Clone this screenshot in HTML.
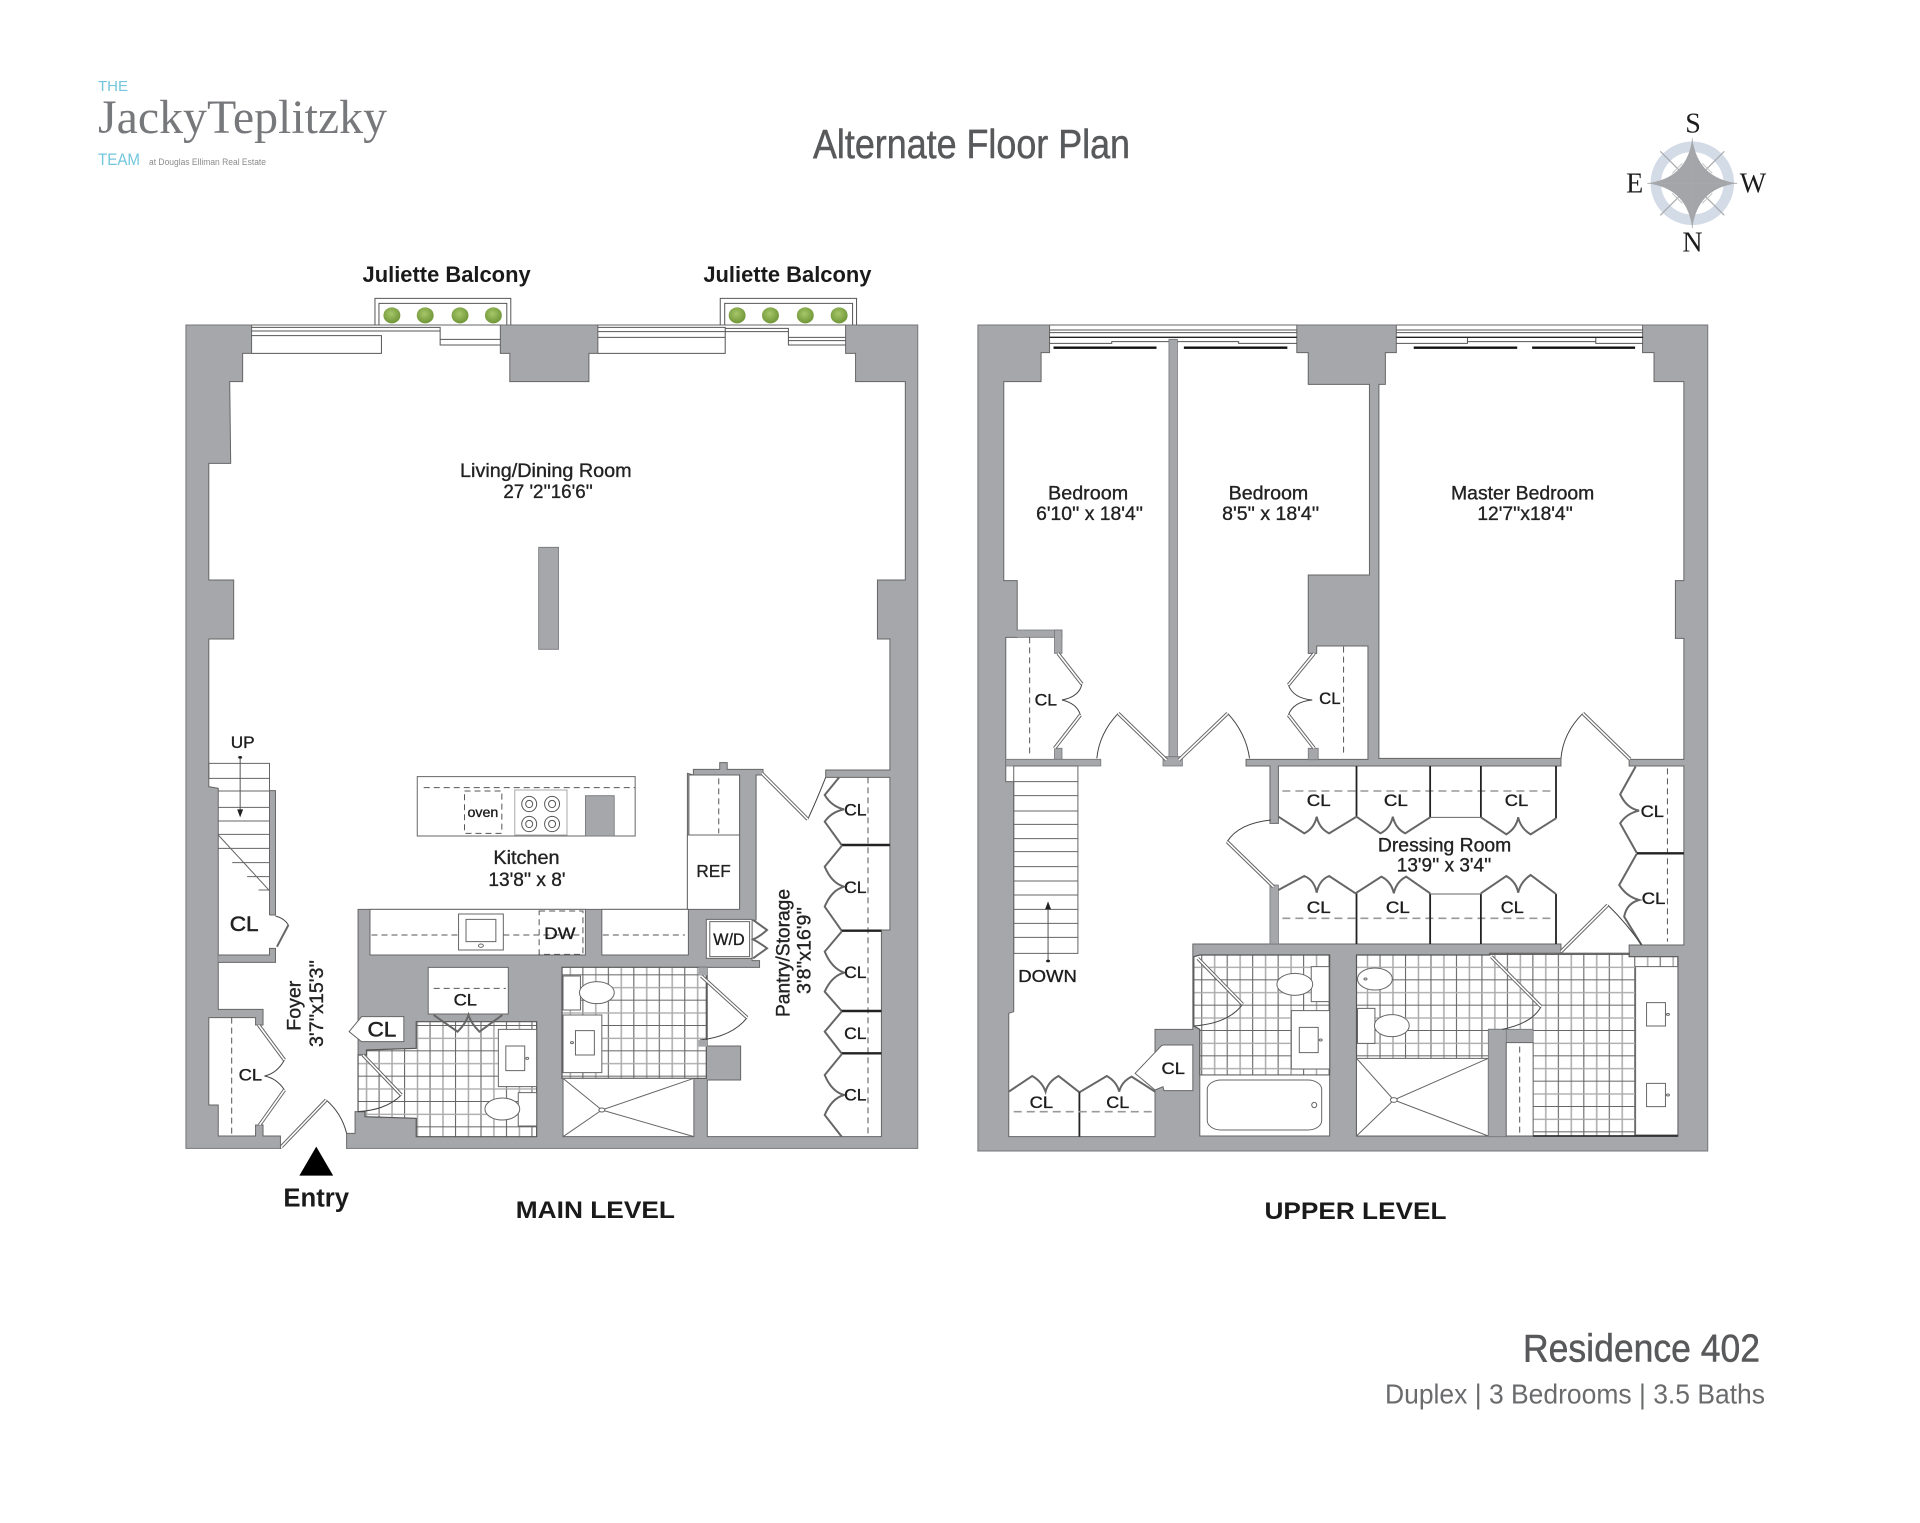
<!DOCTYPE html>
<html><head><meta charset="utf-8"><title>Residence 402 Alternate Floor Plan</title>
<style>
html,body{margin:0;padding:0;background:#fff}
svg{display:block}
svg *{vector-effect:non-scaling-stroke}
text{font-family:"Liberation Sans",sans-serif;vector-effect:none}
.g{fill:none;stroke:#555;stroke-width:1}
.wall{fill:#a5a7aa;stroke:#74767a;stroke-width:1}
.w{fill:#fff;stroke:#666;stroke-width:1}
.wn{fill:#fff;stroke:none}
.gf{fill:#a5a7aa;stroke:none}
.gs{fill:#a5a7aa;stroke:#74767a;stroke-width:.8}
.t{fill:url(#tile);stroke:#555;stroke-width:1.2}
.tu{fill:url(#tileu);stroke:#555;stroke-width:1.2}
.th{fill:none;stroke:#666;stroke-width:1}
.lo{fill:none;stroke:#666;stroke-width:3.6}
.li{fill:none;stroke:#fff;stroke-width:1.6}
.ch{fill:none;stroke:#666;stroke-width:2}
.arc{fill:none;stroke:#444;stroke-width:1}
.d{fill:none;stroke:#555;stroke-width:1;stroke-dasharray:6 4}
.d2{fill:none;stroke:#999;stroke-width:1.6;stroke-dasharray:8 5}
.bk{fill:none;stroke:#222;stroke-width:1.8}
.bb{fill:none;stroke:#222;stroke-width:2.4}
.l{fill:#222;stroke:#222;stroke-width:.35;font-size:19.5px}
.c{fill:#1d1d1d;stroke:#1d1d1d;stroke-width:.35;font-size:16.5px}
.b{fill:#1a1a1a;font-weight:bold;font-size:22px}
.h{fill:#58595b;stroke:#58595b;stroke-width:.5}
</style></head>
<body>
<svg xmlns="http://www.w3.org/2000/svg" width="1920" height="1523" viewBox="0 0 1920 1523">
<defs>
<pattern id="tile" patternUnits="userSpaceOnUse" x="9.6" y="3" width="51.2" height="76">
<rect width="51.2" height="76" fill="#fff"/>
<rect x="0" y="0" width="2.2" height="76" fill="#666"/>
<rect x="25.6" y="0" width="3" height="76" fill="#aaa"/>
<rect x="0" y="0" width="51.2" height="3" fill="#666"/>
<rect x="0" y="38" width="51.2" height="4" fill="#aaa"/>
</pattern>
<pattern id="tileu" patternUnits="userSpaceOnUse" x="24" y="34" width="51.2" height="76">
<rect width="51.2" height="76" fill="#fff"/>
<rect x="0" y="0" width="2.2" height="76" fill="#666"/>
<rect x="25.6" y="0" width="3" height="76" fill="#aaa"/>
<rect x="0" y="0" width="51.2" height="3" fill="#666"/>
<rect x="0" y="38" width="51.2" height="4" fill="#aaa"/>
</pattern>
<path id="dl" d="M178,915L230,1020M230,1110L180,1215M224,1280L314,1140M388,1005L465,1125M1068,768L1160,893M1190,160L1282,298"/>
<path id="du" d="M197,-260L245,-168M242,-75L190,25M318,-80L415,60M538,-80L440,60M712,-260L660,-165M660,-75L712,25M1252,-80L1347,58M630,440L537,305M478,655L568,793M1068,650L1168,800M1208,635L1302,495"/>
<radialGradient id="pl" cx=".45" cy=".4" r=".6"><stop offset="0" stop-color="#a6c66a"/><stop offset="1" stop-color="#6f9636"/></radialGradient>
</defs>
<rect width="1920" height="1523" fill="#fff"/>

<!-- MAIN LEVEL -->
<g transform="translate(170 720) scale(.4975 .33333)">
<rect class="wall" x="32" y="-1185" width="1471" height="2470"/>
<polygon class="w" points="164,-1185 164,-1100 146,-1100 146,-1015 120,-1015 122,-770 78,-770 78,-420 128,-420 128,-243 78,-243 78,200 97,205 97,868 187,868 187,915 172,915 172,893 78,893 78,1155 97,1155 97,1248 172,1248 172,1215 187,1215 187,1248 222,1248 222,1285 355,1285 355,1240 372,1240 372,1175 378,1175 378,568 1040,568 1040,160 1052,165 1052,148 1105,148 1105,128 1120,128 1120,148 1192,148 1192,165 1178,165 1178,600 1170,600 1170,722 1185,722 1185,742 1080,742 1080,978 1147,978 1147,1080 1080,1080 1080,1250 1430,1250 1430,630 1447,630 1447,172 1318,172 1318,150 1447,150 1447,-243 1422,-243 1422,-420 1478,-420 1478,-1015 1378,-1015 1378,-1100 1358,-1100 1358,-1185 860,-1185 860,-1100 842,-1100 842,-1015 683,-1015 683,-1100 664,-1100 664,-1185"/>
<path d="M224,1285.5H354" fill="none" stroke="#fff" stroke-width="2.5"/>
<!-- windows -->
<path class="g" d="M164,-1178H543V-1125H664M164,-1167H543M164,-1153H425V-1100H164M543,-1142H664M860,-1178H1116V-1100H860M860,-1165H1116M860,-1148H1116M1116,-1175H1243V-1125H1358M1116,-1165H1243M1243,-1148H1358M1243,-1138H1358"/>
<path class="g" d="M412,-1185V-1265H685V-1185M420,-1185V-1250H677V-1185M1106,-1185V-1265H1380V-1185M1115,-1185V-1250H1372V-1185"/>
<g fill="url(#pl)">
<ellipse cx="446" cy="-1214" rx="17" ry="24"/><ellipse cx="513" cy="-1214" rx="17" ry="24"/><ellipse cx="583" cy="-1214" rx="17" ry="24"/><ellipse cx="650" cy="-1214" rx="17" ry="24"/>
<ellipse cx="1140" cy="-1214" rx="17" ry="24"/><ellipse cx="1207" cy="-1214" rx="17" ry="24"/><ellipse cx="1277" cy="-1214" rx="17" ry="24"/><ellipse cx="1345" cy="-1214" rx="17" ry="24"/>
</g>
<rect class="gs" x="741" y="-518" width="40" height="306"/>

<!-- stairs -->
<rect class="th" x="78" y="130" width="122" height="45"/>
<path class="th" d="M97,213H200M97,262H200M97,303H200M97,343H200M97,385H200M125,428H200M155,470H200M178,510H200M97,345L200,512M200,175V212"/>
<path class="g" d="M141,112V270"/><circle cx="141" cy="112" r="4" fill="#222"/>
<polygon points="135,268 147,268 141,292" fill="#222"/>
<rect class="gf" x="200" y="212" width="12" height="373"/>
<rect class="gf" x="200" y="685" width="12" height="42"/>
<rect class="gf" x="97" y="705" width="115" height="22"/>
<path class="th" d="M97,727H212V685H200V705H97M200,585V212H212V585H200"/>
<path class="arc" d="M212,588Q230,595 238,615"/>
<path class="ch" d="M238,615L215,680"/>

<!-- lower-left foyer closet -->
<path class="d" d="M124,893V1248"/>
<path class="arc" d="M230,1020Q215,1060 190,1068Q215,1075 230,1110"/>
<!-- entry -->
<path class="arc" d="M314,1140Q345,1180 355,1240"/>
<polygon points="260,1367 328,1367 294,1280" fill="#000"/>

<!-- island -->
<rect class="w" x="497" y="170" width="438" height="178"/>
<path class="d" d="M510,203H935"/>
<rect class="d" x="592" y="213" width="75" height="127"/>
<rect x="693" y="210" width="105" height="135" fill="#fff" stroke="#aaa"/>
<g class="g"><ellipse cx="722" cy="252" rx="15" ry="23"/><ellipse cx="768" cy="252" rx="15" ry="23"/><ellipse cx="722" cy="312" rx="15" ry="23"/><ellipse cx="768" cy="312" rx="15" ry="23"/>
<ellipse cx="722" cy="252" rx="7" ry="11"/><ellipse cx="768" cy="252" rx="7" ry="11"/><ellipse cx="722" cy="312" rx="7" ry="11"/><ellipse cx="768" cy="312" rx="7" ry="11"/></g>
<rect class="gs" x="835" y="227" width="58" height="121"/>

<!-- fridge/cabinet -->
<rect class="w" x="1043" y="165" width="102" height="180"/>
<path class="d" d="M1103,175V340"/>
<rect class="w" x="1040" y="345" width="105" height="223"/>
<rect class="gf" x="1145" y="165" width="33" height="435"/>
<path class="th" d="M1145,165V568M1178,165V600"/>

<!-- counters -->
<rect class="w" x="402" y="568" width="433" height="137"/>
<rect class="w" x="868" y="568" width="174" height="137"/>
<path class="d" d="M405,645H580M670,645H830M870,645H1035"/>
<rect class="w" x="580" y="582" width="90" height="108"/>
<rect class="th" x="595" y="598" width="60" height="67"/>
<circle class="th" cx="625" cy="677" r="5"/>
<rect class="d" x="742" y="573" width="88" height="130"/>
<!-- W/D -->
<rect class="w" x="1078" y="598" width="92" height="117"/>
<rect class="th" x="1085" y="605" width="80" height="105"/>
<path class="ch" d="M1172,600L1200,630Q1185,650 1172,658Q1185,668 1200,685L1172,715"/>

<!-- closet -->
<rect class="w" x="519" y="742" width="161" height="140"/>
<path class="d" d="M530,805H675"/>
<!-- left bath -->
<polygon class="t" points="395,990 495,985 495,905 737,905 737,1250 495,1250 495,1195 392,1190 392,1175 378,1175 378,1005 395,1005"/>
<path class="ch" d="M530,885L578,935Q595,910 600,885Q605,910 622,935L668,885"/>
<path class="arc" d="M465,1125Q435,1170 378,1175"/>
<rect class="w" x="660" y="928" width="77" height="172"/>
<rect class="th" x="675" y="978" width="38" height="74"/>
<circle class="th" cx="718" cy="1015" r="3"/>
<rect class="w" x="700" y="1118" width="37" height="100"/>
<ellipse class="w" cx="668" cy="1167" rx="35" ry="33"/>
<!-- foyer CL -->
<polygon class="w" points="385,890 470,890 470,965 385,965 360,935"/>
<!-- right bath -->
<rect class="t" x="788" y="742" width="290" height="333"/>
<path class="arc" d="M1160,893Q1130,950 1065,960"/>
<rect class="gf" x="1062" y="742" width="18" height="24"/>
<rect class="gf" x="1062" y="960" width="18" height="20"/>
<rect class="w" x="790" y="885" width="78" height="173"/>
<rect class="th" x="815" y="932" width="38" height="73"/>
<circle class="th" cx="808" cy="968" r="3"/>
<rect class="w" x="790" y="768" width="35" height="102"/>
<ellipse class="w" cx="858" cy="818" rx="35" ry="33"/>
<rect class="w" x="790" y="1075" width="263" height="175"/>
<path class="th" d="M790,1075L868,1170M1053,1075L868,1170M790,1250L868,1170M1053,1250L868,1170"/>
<circle class="w" cx="868" cy="1170" r="6"/>

<!-- pantry closets -->
<path class="arc" d="M1282,298Q1300,240 1318,172"/>
<path class="d" d="M1403,172V1250"/>
<path class="ch" d="M1345,172L1316,225Q1330,260 1355,268Q1330,275 1316,305L1350,375M1350,378L1316,440Q1330,490 1355,500Q1330,510 1316,560L1350,632M1350,635L1316,695Q1330,745 1355,758Q1330,768 1316,815L1350,873M1350,875L1316,935L1350,1000M1350,1003L1316,1065Q1330,1115 1355,1125Q1330,1135 1316,1185L1350,1250"/>
<path class="bb" d="M1350,375H1447M1350,632H1430M1350,873H1430M1350,1000H1430"/>
<use href="#dl" class="lo"/><use href="#dl" class="li"/>
</g>

<!-- UPPER LEVEL -->
<g transform="translate(960 740) scale(.4975 .33333)">
<rect class="wall" x="36" y="-1245" width="1467" height="2478"/>
<polygon class="w" points="180,-1245 180,-1162 163,-1162 163,-1075 88,-1075 88,-478 115,-478 115,-308 92,-308 92,125 108,125 108,815 98,820 98,1190 392,1190 392,868 468,868 468,612 1208,612 1208,640 1345,640 1345,615 1455,615 1455,78 1345,78 1345,58 1455,58 1455,-305 1438,-305 1438,-478 1455,-478 1455,-1075 1395,-1075 1395,-1162 1372,-1162 1372,-1245 877,-1245 877,-1162 855,-1162 855,-1067 842,-1067 842,55 1208,55 1208,78 640,78 640,250 623,250 623,78 575,78 575,58 820,58 820,-282 717,-282 717,-260 700,-260 700,-495 823,-495 823,-1067 700,-1067 700,-1162 677,-1162 677,-1245"/>
<!-- windows -->
<path class="g" d="M180,-1230H677M180,-1222H677M180,-1190H305V-1195H560V-1190H677M877,-1230H1373M877,-1222H1373M877,-1190H1020V-1208M1278,-1208V-1190H1373M1020,-1195H1278"/>
<path d="M180,-1208H677M877,-1208H1373" fill="none" stroke="#222" stroke-width="1.4"/>
<path d="M188,-1177H395M450,-1177H658M912,-1177H1120M1150,-1177H1357" fill="none" stroke="#111" stroke-width="2.4"/>
<!-- internal walls -->
<rect class="gs" x="420" y="-1202" width="17" height="1257"/>
<rect class="gs" x="408" y="50" width="39" height="28"/>
<rect class="gs" x="115" y="-330" width="90" height="22"/>
<rect class="gs" x="190" y="-330" width="15" height="70"/>
<rect class="gf" x="112" y="-329" width="20" height="20"/>
<rect class="gs" x="190" y="25" width="15" height="34"/>
<rect class="gs" x="700" y="25" width="20" height="34"/>
<rect class="gs" x="92" y="58" width="191" height="20"/>
<rect class="gs" x="623" y="435" width="17" height="177"/>
<!-- closets bedrooms -->
<path class="d" d="M140,-308V45M771,-280V50"/>
<path class="arc" d="M245,-168Q240,-130 205,-120Q235,-110 242,-75M660,-165Q670,-125 708,-120Q670,-115 660,-75"/>
<path class="arc" d="M318,-80Q280,-20 275,55M538,-80Q575,-20 582,55M1252,-80Q1212,-20 1208,55"/>
<!-- stairs -->
<rect class="th" x="108" y="78" width="129" height="562"/>
<path class="th" d="M108,125H237M108,167H237M108,213H237M108,253H237M108,296H237M108,335H237M108,380H237M108,423H237M108,465H237M108,508H237M108,550H237M108,592H237"/>
<path class="g" d="M177,505V663"/><circle cx="177" cy="663" r="4" fill="#222"/>
<polygon points="171,508 183,508 177,484" fill="#222"/>
<!-- dressing closets -->
<path class="d2" d="M648,153H1195M648,535H1195"/>
<path class="bk" d="M797,78V230M945,78V232M1047,78V232M1198,78V235M797,460V612M945,460V612M1047,460V612M1198,462V612"/>
<path class="th" d="M945,232H1047M945,462H1047"/>
<path class="ch" d="M640,230L692,280Q712,265 717,230Q722,265 742,280L797,230L845,280Q865,265 870,230Q875,265 895,280L945,232M1047,232L1098,283Q1118,265 1122,232Q1127,265 1147,283L1198,235"/>
<path class="ch" d="M640,450L692,408Q712,420 717,458Q722,420 742,408L795,460L847,410Q867,425 872,460Q877,425 897,410L945,460M1047,460L1098,408Q1118,425 1122,458Q1127,425 1147,405L1198,462"/>
<path class="arc" d="M537,305Q560,250 625,240"/>
<!-- right closets -->
<path class="d" d="M1422,85V605"/>
<path class="ch" d="M1358,80L1327,163Q1340,205 1365,212Q1340,220 1327,250L1360,338M1360,342L1325,435Q1340,470 1365,480Q1340,490 1335,530L1370,615"/>
<path class="bb" d="M1360,340H1455"/>
<!-- hall closets -->
<path class="ch" d="M98,1055L145,1008Q165,1025 172,1055Q177,1025 198,1008L240,1057L295,1008Q315,1025 320,1055Q325,1025 345,1010L392,1055"/>
<path class="bk" d="M240,1057V1190"/>
<path class="d2" d="M108,1115H390"/>
<polygon class="w" points="408,915 468,915 468,1052 410,1052 408,1040 392,1050 352,1000 405,917"/>
<!-- bath 1 -->
<polygon class="tu" points="482,645 743,645 743,1005 482,1005 482,868 470,858 470,650"/>
<path class="arc" d="M568,793Q540,850 470,858"/>
<rect class="w" x="706" y="680" width="36" height="105"/>
<ellipse class="w" cx="673" cy="733" rx="36" ry="33"/>
<rect class="w" x="666" y="812" width="77" height="175"/>
<rect class="th" x="682" y="862" width="38" height="76"/>
<circle class="th" cx="725" cy="900" r="3"/>
<rect class="w" x="482" y="1005" width="261" height="183"/>
<rect class="th" x="497" y="1020" width="230" height="150" rx="28" ry="28"/>
<ellipse class="th" cx="712" cy="1095" rx="5" ry="8"/>
<!-- master bath -->
<polygon class="tu" points="797,645 1065,645 1065,640 1345,640 1345,650 1443,650 1443,1188 797,1188"/>
<rect class="w" x="797" y="955" width="265" height="233"/>
<path class="th" d="M797,955L872,1080M1062,955L872,1080M797,1188L872,1080M1062,1188L872,1080"/>
<circle class="w" cx="872" cy="1080" r="7"/>
<rect class="gs" x="1062" y="868" width="90" height="42"/>
<rect class="gs" x="1062" y="868" width="36" height="322"/>
<rect class="w" x="1098" y="908" width="54" height="280"/>
<path class="d" d="M1125,920V1180"/>
<rect class="w" x="1358" y="680" width="85" height="505"/>
<rect class="th" x="1380" y="788" width="38" height="70"/>
<rect class="th" x="1380" y="1030" width="38" height="70"/>
<circle class="th" cx="1423" cy="823" r="3"/>
<circle class="th" cx="1423" cy="1065" r="3"/>
<path d="M1152,1188H1443" fill="none" stroke="#222" stroke-width="1.5"/>
<path class="arc" d="M1168,800Q1150,850 1090,868"/>
<ellipse class="w" cx="834" cy="717" rx="35" ry="33"/>
<circle class="th" cx="815" cy="717" r="3"/>
<rect class="w" x="799" y="805" width="35" height="105"/>
<ellipse class="w" cx="868" cy="857" rx="35" ry="33"/>
<path class="arc" d="M1302,495Q1340,550 1370,615"/>
<use href="#du" class="lo"/><use href="#du" class="li"/>
</g>

<!-- Main labels -->
<g transform="translate(.85 0) scale(.995 1)">
<text class="b" x="363.5" y="282" textLength="169" lengthAdjust="spacingAndGlyphs">Juliette Balcony</text>
<text class="b" x="706" y="282" textLength="169" lengthAdjust="spacingAndGlyphs">Juliette Balcony</text>
<text class="l" x="461.5" y="477" textLength="172.5" lengthAdjust="spacingAndGlyphs">Living/Dining Room</text>
<text class="l" x="505" y="498" textLength="90" lengthAdjust="spacingAndGlyphs">27 '2''16'6''</text>
<text class="c" x="231" y="748" textLength="24" lengthAdjust="spacingAndGlyphs" style="font-size:17px">UP</text>
<text class="c" x="469" y="817" textLength="31" lengthAdjust="spacingAndGlyphs" style="font-size:14px">oven</text>
<text class="l" x="495" y="864" textLength="66.5" lengthAdjust="spacingAndGlyphs">Kitchen</text>
<text class="l" x="490" y="886" textLength="77.5" lengthAdjust="spacingAndGlyphs">13'8'' x 8'</text>
<text class="l" x="699" y="877" textLength="34.5" lengthAdjust="spacingAndGlyphs" style="font-size:18px">REF</text>
<text class="l" x="230" y="931" textLength="29" lengthAdjust="spacingAndGlyphs" style="font-size:21px;stroke-width:.5">CL</text>
<text class="c" x="716" y="945" textLength="31.5" lengthAdjust="spacingAndGlyphs">W/D</text>
<text class="c" x="546" y="939" textLength="31.5" lengthAdjust="spacingAndGlyphs" style="font-size:17px">DW</text>
<text class="c" x="455" y="1005.7" textLength="23.5" lengthAdjust="spacingAndGlyphs">CL</text>
<text class="l" x="368.5" y="1036.7" textLength="29" lengthAdjust="spacingAndGlyphs" style="font-size:21px;stroke-width:.5">CL</text>
<text class="c" x="239" y="1080.7" textLength="23.5" lengthAdjust="spacingAndGlyphs">CL</text>
<text class="c" x="847.5" y="815.7" textLength="22.5" lengthAdjust="spacingAndGlyphs">CL</text>
<text class="c" x="847.5" y="893" textLength="22.5" lengthAdjust="spacingAndGlyphs">CL</text>
<text class="c" x="847.5" y="978" textLength="22.5" lengthAdjust="spacingAndGlyphs">CL</text>
<text class="c" x="847.5" y="1039" textLength="22.5" lengthAdjust="spacingAndGlyphs">CL</text>
<text class="c" x="847.5" y="1100.7" textLength="22.5" lengthAdjust="spacingAndGlyphs">CL</text>
<text class="l" x="301" y="1030.7" transform="rotate(-90 301 1030.7)" textLength="50" lengthAdjust="spacingAndGlyphs">Foyer</text>
<text class="l" x="324" y="1047" transform="rotate(-90 324 1047)" textLength="87" lengthAdjust="spacingAndGlyphs">3'7''x15'3''</text>
<text class="l" x="792.5" y="1017" transform="rotate(-90 792.5 1017)" textLength="128" lengthAdjust="spacingAndGlyphs">Pantry/Storage</text>
<text class="l" x="813.5" y="994" transform="rotate(-90 813.5 994)" textLength="87" lengthAdjust="spacingAndGlyphs">3'8''x16'9''</text>
<text class="b" x="284" y="1206.7" textLength="66" lengthAdjust="spacingAndGlyphs" style="font-size:26px">Entry</text>
<text class="b" x="517.5" y="1218" textLength="160" lengthAdjust="spacingAndGlyphs" style="font-size:24px">MAIN LEVEL</text>
</g>

<!-- Upper labels -->
<g transform="translate(4.8 0) scale(.995 1)">
<text class="l" x="1048.5" y="499.3" textLength="80.5" lengthAdjust="spacingAndGlyphs">Bedroom</text>
<text class="l" x="1036.5" y="520" textLength="107.5" lengthAdjust="spacingAndGlyphs">6'10'' x 18'4''</text>
<text class="l" x="1230" y="499.3" textLength="80" lengthAdjust="spacingAndGlyphs">Bedroom</text>
<text class="l" x="1223.5" y="520" textLength="97.5" lengthAdjust="spacingAndGlyphs">8'5'' x 18'4''</text>
<text class="l" x="1453.5" y="499.3" textLength="144" lengthAdjust="spacingAndGlyphs">Master Bedroom</text>
<text class="l" x="1480" y="520" textLength="96" lengthAdjust="spacingAndGlyphs">12'7''x18'4''</text>
<text class="c" x="1035" y="705.7" textLength="22.5" lengthAdjust="spacingAndGlyphs">CL</text>
<text class="c" x="1321" y="704" textLength="21.5" lengthAdjust="spacingAndGlyphs">CL</text>
<text class="c" x="1308.5" y="806" textLength="24" lengthAdjust="spacingAndGlyphs">CL</text>
<text class="c" x="1386" y="806" textLength="24" lengthAdjust="spacingAndGlyphs">CL</text>
<text class="c" x="1507.5" y="806" textLength="23.5" lengthAdjust="spacingAndGlyphs">CL</text>
<text class="c" x="1308.5" y="913" textLength="24" lengthAdjust="spacingAndGlyphs">CL</text>
<text class="c" x="1388" y="913" textLength="24" lengthAdjust="spacingAndGlyphs">CL</text>
<text class="c" x="1503.5" y="913" textLength="23" lengthAdjust="spacingAndGlyphs">CL</text>
<text class="c" x="1644" y="817" textLength="23.5" lengthAdjust="spacingAndGlyphs">CL</text>
<text class="c" x="1645" y="904" textLength="24" lengthAdjust="spacingAndGlyphs">CL</text>
<text class="l" x="1380" y="851.7" textLength="134" lengthAdjust="spacingAndGlyphs">Dressing Room</text>
<text class="l" x="1399" y="871.7" textLength="95" lengthAdjust="spacingAndGlyphs">13'9'' x 3'4''</text>
<text class="c" x="1018.5" y="982" textLength="59" lengthAdjust="spacingAndGlyphs" style="font-size:18px">DOWN</text>
<text class="c" x="1030" y="1108" textLength="23.5" lengthAdjust="spacingAndGlyphs">CL</text>
<text class="c" x="1107" y="1108" textLength="23" lengthAdjust="spacingAndGlyphs">CL</text>
<text class="c" x="1162.5" y="1074" textLength="23.5" lengthAdjust="spacingAndGlyphs">CL</text>
<text class="b" x="1266" y="1219" textLength="183" lengthAdjust="spacingAndGlyphs" style="font-size:24px">UPPER LEVEL</text>
</g>

<!-- Header -->
<text class="h" x="813" y="158" textLength="317" lengthAdjust="spacingAndGlyphs" style="font-size:41px">Alternate Floor Plan</text>
<text class="h" x="1523" y="1361.7" textLength="237" lengthAdjust="spacingAndGlyphs" style="font-size:39px">Residence 402</text>
<text x="1385" y="1403.3" textLength="380" lengthAdjust="spacingAndGlyphs" style="font-size:28px;fill:#6a6b6d">Duplex | 3 Bedrooms | 3.5 Baths</text>

<!-- Logo -->
<text x="98" y="91" textLength="30" lengthAdjust="spacingAndGlyphs" style="font-size:14.5px;fill:#73c7dc">THE</text>
<text x="98" y="133" textLength="289" lengthAdjust="spacingAndGlyphs" style="font-family:'Liberation Serif',serif;font-size:48px;fill:#77787b">JackyTeplitzky</text>
<text x="98" y="165" textLength="42" lengthAdjust="spacingAndGlyphs" style="font-size:16.5px;fill:#73c7dc">TEAM</text>
<text x="149" y="165" textLength="117" lengthAdjust="spacingAndGlyphs" style="font-size:9px;fill:#8a8b8d">at Douglas Elliman Real Estate</text>

<!-- Compass -->
<g transform="translate(1692.3 183.3)">
<circle r="36.5" fill="none" stroke="#d3dbe7" stroke-width="10.5"/>
<path d="M-32,-32L32,32M32,-32L-32,32" stroke="#a8aaad" stroke-width="1.2" fill="none"/>
<path d="M-20,-10L-10,-20M20,-10L10,-20M-20,10L-10,20M20,10L10,20" stroke="#c0c2c5" stroke-width="1" fill="none"/>
<path d="M0,-45Q5,-5 45,0Q5,5 0,45Q-5,5 -45,0Q-5,-5 0,-45Z" fill="#a3a5a8"/>
<path d="M0,-45V45M-45,0H45" stroke="#a8aaad" stroke-width=".8"/>
</g>
<g style="font-size:28px;fill:#1d1d1d">
<text x="1693" y="132.7" text-anchor="middle" style="font-family:'Liberation Serif',serif">S</text>
<text x="1634.7" y="192.7" text-anchor="middle" style="font-family:'Liberation Serif',serif">E</text>
<text x="1753" y="192.7" text-anchor="middle" style="font-family:'Liberation Serif',serif">W</text>
<text x="1692.5" y="251.7" text-anchor="middle" style="font-family:'Liberation Serif',serif">N</text>
</g>
</svg>
</body></html>
